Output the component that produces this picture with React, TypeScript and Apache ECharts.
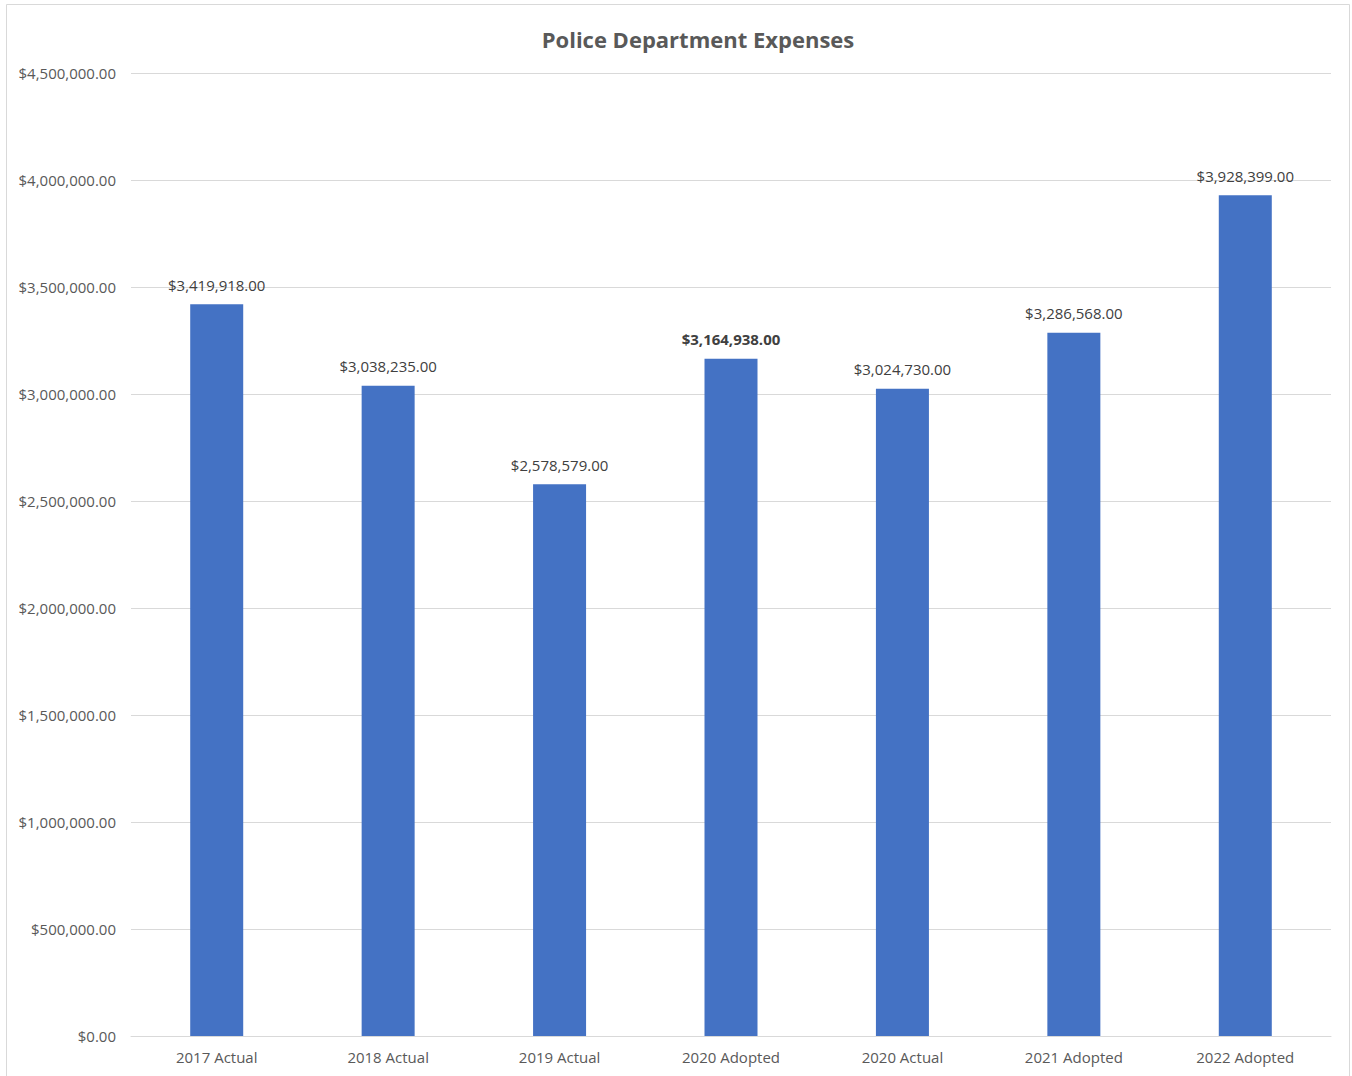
import React, { useEffect, useRef } from "react";
import * as echarts from "echarts";

const categories = ["2017 Actual", "2018 Actual", "2019 Actual", "2020 Adopted", "2020 Actual", "2021 Adopted", "2022 Adopted"];
const expenses = [3419918, 3038235, 2578579, 3164938, 3024730, 3286568, 3928399];
const boldIndex = [3];

const fmt = (v: number) =>
  "$" + v.toLocaleString("en-US", { minimumFractionDigits: 2, maximumFractionDigits: 2 });

export default function App() {
  const ref = useRef<HTMLDivElement>(null);
  useEffect(() => {
    if (!ref.current) return;
    const chart = echarts.init(ref.current, undefined, { renderer: "svg" });
    const font = "'Open Sans', 'Noto Sans', sans-serif";
    chart.setOption({
      animation: false,
      textStyle: { fontFamily: font },
      title: {
        text: "Police Department Expenses",
        left: 693,
        top: 23,
        textAlign: "center",
        textStyle: { fontFamily: font, fontSize: 22, fontWeight: "bold", color: "#595959" },
      },
      graphic: [
        {
          type: "rect",
          shape: { x: 6.5, y: 4.5, width: 1343, height: 1080 },
          style: { fill: "none", stroke: "#d9d9d9", lineWidth: 1 },
          silent: true,
          z: -1,
        },
      ],
      grid: { left: 131, right: 21, top: 73, bottom: 40 },
      xAxis: {
        type: "category",
        data: categories,
        axisLine: { lineStyle: { color: "#d9d9d9" } },
        axisTick: { show: false },
        axisLabel: { color: "#595959", fontSize: 15, margin: 13, fontFamily: font },
      },
      yAxis: {
        type: "value",
        min: 0,
        max: 4500000,
        interval: 500000,
        axisLine: { show: false },
        axisTick: { show: false },
        splitLine: { lineStyle: { color: "#d9d9d9" } },
        axisLabel: { color: "#595959", fontSize: 15, margin: 15, fontFamily: font, formatter: (v: number) => fmt(v) },
      },
      series: [
        {
          type: "bar",
          barWidth: 53,
          itemStyle: { color: "#4472C4" },
          data: expenses.map((v, i) => ({
            value: v,
            label: boldIndex.includes(i) ? { fontWeight: "bold" } : undefined,
          })),
          label: {
            show: true,
            position: "top",
            distance: 12,
            color: "#404040",
            fontSize: 15,
            fontFamily: font,
            formatter: (p: any) => fmt(p.value),
          },
        },
      ],
    });
    return () => chart.dispose();
  }, []);
  return (
    <div
      ref={ref}
      style={{ position: "absolute", left: 0, top: 0, width: 1352, height: 1076, background: "#fff" }}
    />
  );
}
